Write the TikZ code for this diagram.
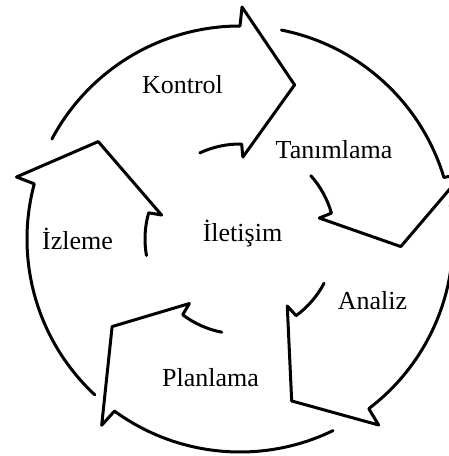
\documentclass[tikz,border=0pt]{standalone}
\usepackage{fontspec}
\setmainfont{Liberation Serif}
\begin{document}
\begin{tikzpicture}[x=1pt,y=1pt,
  cyclearrow/.style={line width=3pt, line join=round, line cap=round, draw=black},
  stage/.style={inner sep=0pt, anchor=base, font=\fontsize{26}{30}\selectfont}]
\useasboundingbox (0,0) rectangle (449,456);
\clip (0,0) rectangle (449,456);
% five curved arrows around the centre; \t is the angle where each head
% begins and \r the distance of its tip from the centre
\begin{scope}[shift={(240,217)}]
  \foreach \t/\r in {90/163.5, 16.8/161, -52.8/170, -126.1/155, 165/172} {
    \draw[cyclearrow]
      (\t+62:213) arc[start angle=\t+62, end angle=\t, radius=213]
      -- (\t-0.5:232)
      -- (\t-19.5:\r)
      -- (\t-2:82)
      -- (\t-1:95)
      arc[start angle=\t-1, end angle=\t+25, radius=95];
  }
\end{scope}
% stage labels
\node[stage] (kontrol)   at (182.5,362) {Kontrol};
\node[stage] (tanimlama) at (334,297)   {Tanımlama};
\node[stage] (analiz)    at (372.5,146) {Analiz};
\node[stage] (planlama)  at (210.5,70)  {Planlama};
\node[stage] (izleme)    at (77.5,206)  {İzleme};
\node[stage] (iletisim)  at (242.5,214) {İletişim};
\end{tikzpicture}
\end{document}
